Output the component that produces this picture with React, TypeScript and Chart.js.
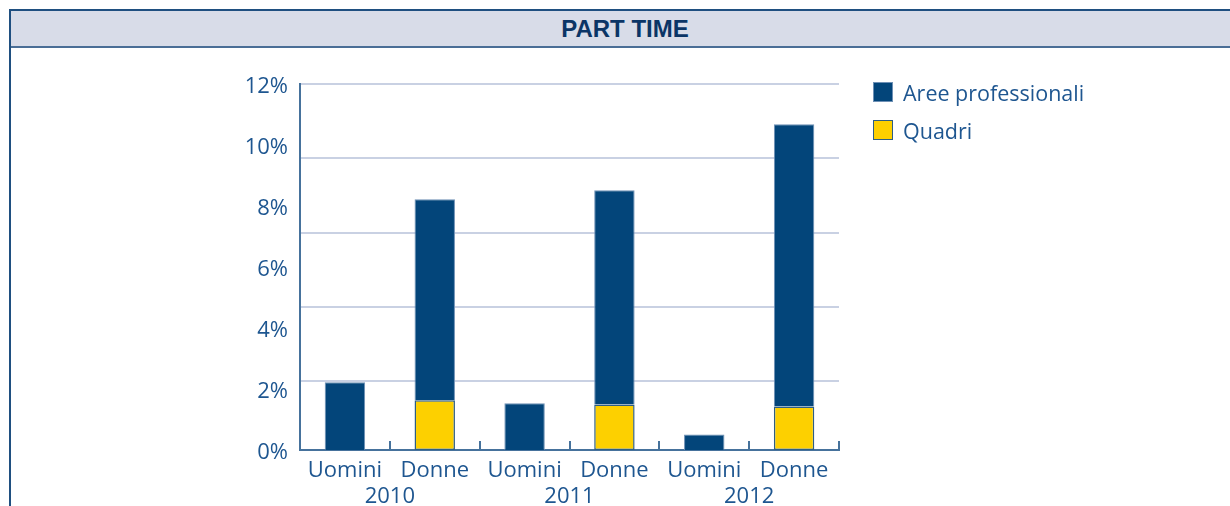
import React, { useEffect, useRef } from "react";
import { Chart, registerables } from "chart.js";

Chart.register(...registerables);

const CATEGORIES = ["Uomini", "Donne", "Uomini", "Donne", "Uomini", "Donne"];
const YEARS = ["2010", "2011", "2012"];
const SERIES_LABELS = ["Aree professionali", "Quadri"];
const AREE = [2.22, 6.59, 1.53, 7.03, 0.51, 9.25];
const QUADRI: (number | null)[] = [null, 1.63, null, 1.49, null, 1.43];
const Y_TICKS = [0, 2, 4, 6, 8, 10, 12];
const GRID_LINES = [2.26, 4.69, 7.13, 9.57, 12];

const BLUE = "#03457A";
const YELLOW = "#FDD000";
const TEXT = "#1E5690";
const AXIS = "#46729C";
const GRID = "#C9D1E3";
const FONT = "'Open Sans', 'Liberation Sans', Arial, sans-serif";
const TITLE_FONT = "'Liberation Sans', Arial, sans-serif";
const FS = 22;

const innerTicks = {
  id: "innerTicks",
  afterDraw(chart: any) {
    const x = chart.scales.x;
    const y = chart.scales.y;
    const ctx = chart.ctx;
    const y0 = y.getPixelForValue(0);
    const half = (x.getPixelForValue(1) - x.getPixelForValue(0)) / 2;
    ctx.save();
    ctx.strokeStyle = AXIS;
    ctx.lineWidth = 2;
    for (let i = 0; i < CATEGORIES.length; i++) {
      const px = Math.round(x.getPixelForValue(i) + half);
      ctx.beginPath();
      ctx.moveTo(px, y0);
      ctx.lineTo(px, y0 - 9);
      ctx.stroke();
    }
    ctx.restore();
  },
};

export default function App() {
  const ref = useRef<HTMLCanvasElement | null>(null);

  useEffect(() => {
    if (!ref.current) return;
    const chart = new Chart(ref.current, {
      type: "bar",
      data: {
        labels: CATEGORIES,
        datasets: [
          {
            label: SERIES_LABELS[1],
            data: QUADRI,
            backgroundColor: YELLOW,
            borderColor: "#2D5E84",
            borderWidth: 1.5,
            borderSkipped: false,
            xAxisID: "x",
            yAxisID: "y",
          },
          {
            label: SERIES_LABELS[0],
            data: AREE,
            backgroundColor: BLUE,
            borderColor: "#6E90B5",
            borderWidth: { top: 1, left: 1, right: 1, bottom: 0 },
            borderSkipped: false,
            xAxisID: "x",
            yAxisID: "y",
          },
        ],
      },
      options: {
        animation: false,
        responsive: false,
        maintainAspectRatio: false,
        layout: { padding: { top: 84, left: 0, right: 391, bottom: 0 } },
        datasets: { bar: { barPercentage: 0.45, categoryPercentage: 1 } },
        plugins: { legend: { display: false }, tooltip: { enabled: false } },
        scales: {
          x: {
            type: "category",
            stacked: true,
            position: "bottom",
            grid: { display: false },
            border: { display: true, color: AXIS, width: 2 },
            ticks: { color: TEXT, font: { family: FONT, size: FS }, padding: 0 },
            afterFit: (s: any) => { s.height = 34; },
          },
          x2: {
            type: "category",
            labels: YEARS,
            offset: true,
            position: "bottom",
            grid: { display: false, drawTicks: false },
            border: { display: false },
            ticks: { color: TEXT, font: { family: FONT, size: FS }, padding: 0 },
            afterFit: (s: any) => { s.height = 22; },
          },
          y: {
            type: "linear",
            stacked: true,
            min: 0,
            max: 12,
            position: "left",
            grid: { display: false },
            border: { display: true, color: AXIS, width: 2 },
            ticks: {
              color: TEXT,
              font: { family: FONT, size: FS },
              padding: 4,
              labelOffset: 3,
              callback: (v: any) => v + "%",
            },
            afterBuildTicks: (s: any) => { s.ticks = Y_TICKS.map((v) => ({ value: v })); },
            afterFit: (s: any) => { s.width = 300; },
          },
          y2: {
            type: "linear",
            min: 0,
            max: 12,
            position: "left",
            grid: { display: true, color: GRID, lineWidth: 2, drawTicks: false },
            border: { display: false },
            ticks: { display: false },
            afterBuildTicks: (s: any) => { s.ticks = GRID_LINES.map((v) => ({ value: v })); },
            afterFit: (s: any) => { s.width = 0; },
          },
        },
      } as any,
      plugins: [innerTicks],
    });
    return () => chart.destroy();
  }, []);

  const legendItems = [
    { label: SERIES_LABELS[0], color: BLUE, border: "#6E90B5" },
    { label: SERIES_LABELS[1], color: YELLOW, border: "#2D5E84" },
  ];

  return (
    <div style={{ position: "fixed", left: 0, top: 0, width: 1230, height: 506, overflow: "hidden", background: "#fff", fontFamily: FONT }}>
      <canvas ref={ref} width={1230} height={506} style={{ position: "absolute", left: 0, top: 0, width: 1230, height: 506 }} />
      <div
        style={{
          position: "absolute",
          left: 9,
          top: 9,
          width: 1240,
          height: 35,
          background: "#D8DCE8",
          borderTop: "2px solid #1F4F80",
          borderLeft: "2px solid #1F4F80",
          borderBottom: "2px solid #4A6E96",
          display: "flex",
          alignItems: "center",
          justifyContent: "center",
          boxSizing: "content-box",
        }}
      >
        <span style={{ fontFamily: TITLE_FONT, fontWeight: "bold", fontSize: 24, color: "#0B3566", marginLeft: -12 }}>PART TIME</span>
      </div>
      <div style={{ position: "absolute", left: 9, top: 46, width: 2, height: 470, background: "#1F4F80" }} />
      <div style={{ position: "absolute", left: 873, top: 82 }}>
        {legendItems.map((it, i) => (
          <div key={i} style={{ display: "flex", alignItems: "center", height: 20, marginBottom: 18 }}>
            <div style={{ width: 20, height: 20, boxSizing: "border-box", background: it.color, border: `1px solid ${it.border}` }} />
            <span style={{ marginLeft: 10, fontSize: 21.5, color: TEXT, whiteSpace: "nowrap" }}>{it.label}</span>
          </div>
        ))}
      </div>
    </div>
  );
}
